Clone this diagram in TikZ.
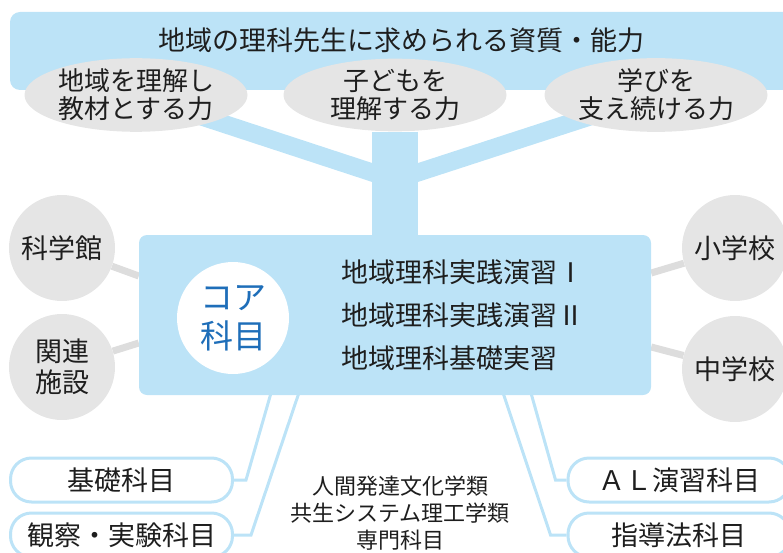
\documentclass[tikz,border=0pt]{standalone}
\usepackage{fontspec}
\setmainfont{Noto Sans CJK JP}
\usetikzlibrary{shapes.geometric,backgrounds,calc}
\definecolor{skyblue}{RGB}{188,227,247}
\definecolor{coreblue}{RGB}{30,110,185}
\definecolor{palegray}{RGB}{229,229,229}
\definecolor{linkgray}{RGB}{221,221,221}
\definecolor{inkgray}{RGB}{30,30,30}

\begin{document}
\begin{tikzpicture}[x=1pt,y=-1pt,text=inkgray,
		skill/.style={ellipse, fill=palegray, minimum width=223pt, minimum height=66pt, inner sep=0pt, align=center, font=\fontsize{26}{28}\selectfont},
		place/.style={circle, fill=palegray, minimum size=106pt, inner sep=0pt, align=center, font=\fontsize{27}{31}\selectfont},
		subject/.style={draw=skyblue, line width=3pt, fill=white, rounded corners=21pt, minimum width=222pt, minimum height=44pt, inner sep=0pt, font=\fontsize{27}{30}\selectfont},
		trunk link/.style={skyblue, line width=46pt},
		branch link/.style={skyblue, line width=18pt},
		thin link/.style={skyblue, line width=3pt},
		gray link/.style={linkgray, line width=7pt}]
			\useasboundingbox (0,0) rectangle (783,553);
			\clip (0,0) rectangle (783,553);
			\fill[skyblue, rounded corners=10pt] (10,12) rectangle (815,90);
			\node[font=\fontsize{27}{30}\selectfont] (title) at (401,40) {地域の理科先生に求められる資質・能力};
			\node[skill] (region) at (136,95) {地域を理解し\\教材とする力};
			\node[skill] (child) at (395,95) {子どもを\\理解する力};
			\node[skill] (learn) at (656,95) {学びを\\支え続ける力};
			\coordinate (fork) at (395,180);
			\node[fill=skyblue, rounded corners=8pt, minimum width=512pt, minimum height=160pt] (core) at (395,315) {};
			\node[circle, fill=white, minimum size=112pt, align=center, text=coreblue, font=\fontsize{33}{39}\selectfont] (corelabel) at (233,318) {コア\\科目};
			\node[anchor=west, align=left, font=\fontsize{27}{43}\selectfont] (corelist) at (338,315) {地域理科実践演習Ⅰ\\地域理科実践演習Ⅱ\\地域理科基礎実習};
			\node[place] (museum) at (62,248) {科学館};
			\node[place] (facility) at (62,367) {関連\\施設};
			\node[place] (elem) at (735,248) {小学校};
			\node[place] (junior) at (735,369) {中学校};
			\node[subject] (basic) at (121.5,480) {基礎科目};
			\node[subject] (lab) at (121.5,535) {観察・実験科目};
			\node[subject] (active) at (679,480) {ＡＬ演習科目};
			\node[subject] (method) at (679,535) {指導法科目};
			\node[align=center, font=\fontsize{22}{27}\selectfont] (dept) at (400,513) {人間発達文化学類\\共生システム理工学類\\専門科目};
			\begin{scope}[on background layer]
				\draw[trunk link] (child) -- (core);
				\draw[branch link] (region.center) -- (fork);
				\draw[branch link] (learn.center) -- (fork);
				\draw[gray link] (museum) -- ($(core.west)+(0,-39)$);
				\draw[gray link] (facility) -- ($(core.west)+(0,28)$);
				\draw[gray link] (elem) -- ($(core.east)+(0,-42)$);
				\draw[gray link] (junior) -- ($(core.east)+(0,32)$);
				\draw[thin link] ($(core.south west)+(133,-5)$) -- ($(basic.east)+(12,0)$) -- (basic.east);
				\draw[thin link] ($(core.south west)+(161,-5)$) -- ($(lab.east)+(17,0)$) -- (lab.east);
				\draw[thin link] ($(core.south east)+(-121,-5)$) -- ($(active.west)+(-11,0)$) -- (active.west);
				\draw[thin link] ($(core.south east)+(-149,-5)$) -- ($(method.west)+(-16,0)$) -- (method.west);
			\end{scope}
		\end{tikzpicture}
\end{document}
